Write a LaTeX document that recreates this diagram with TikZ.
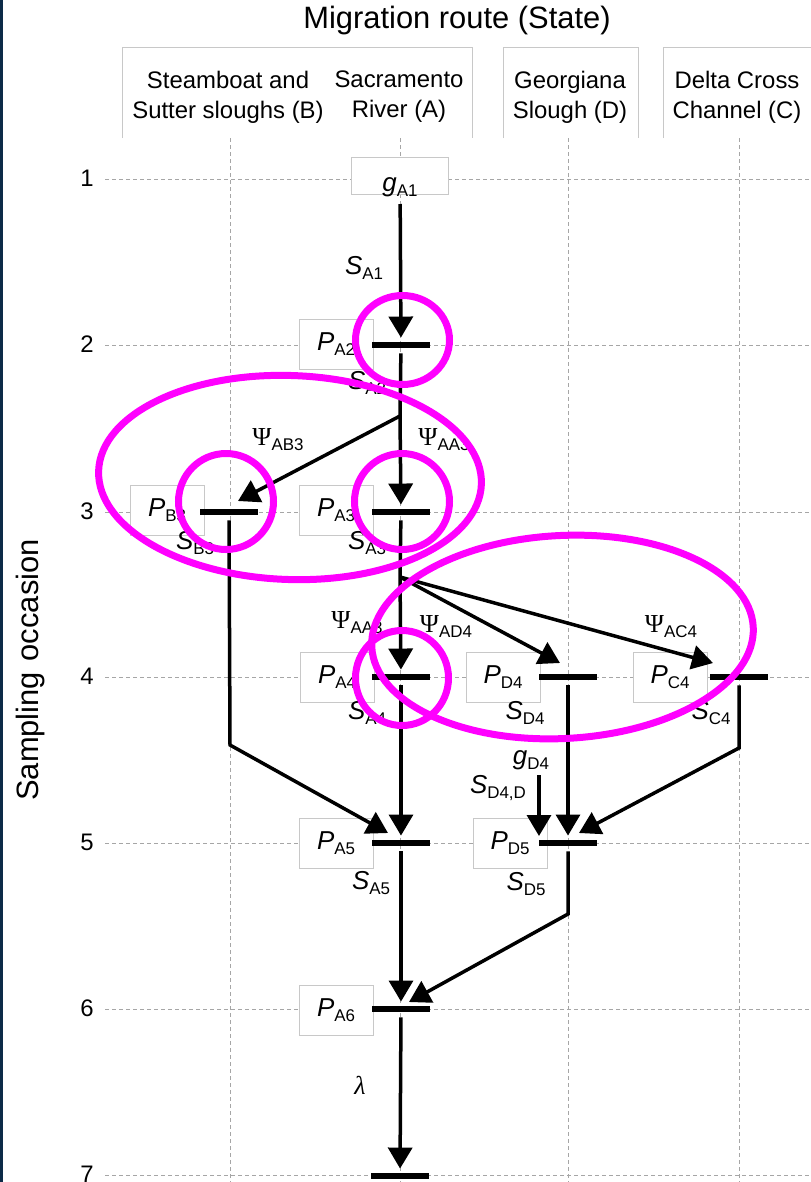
\documentclass[tikz,border=0pt]{standalone}
\usepackage{fontspec}
\setmainfont{Liberation Sans}
\newfontfamily\greekfont{Liberation Serif}
\usetikzlibrary{arrows.meta}

\definecolor{gridgray}{HTML}{A6A6A6}
\definecolor{boxgray}{HTML}{C8C8C8}
\definecolor{hilite}{HTML}{FF00FF}
\definecolor{navy}{HTML}{0C2A47}

\newcommand{\sub}[1]{\raisebox{-5bp}{\fontsize{17}{17}\selectfont #1}}
\newcommand{\ital}[2]{\textit{#1}\sub{#2}}
\newcommand{\trans}[1]{{\greekfont Ψ}\sub{#1}}

\begin{document}
\begin{tikzpicture}[
        x=1bp, y=-1bp,
        gridline/.style={gridgray, line width=1bp, dash pattern=on 4bp off 3bp},
        hbox/.style={draw=boxgray, line width=1bp},
        pbox/.style={rectangle, draw=boxgray, fill=white, line width=1bp, minimum width=74bp, minimum height=50bp, inner sep=0pt, font=\fontsize{26}{30}\selectfont},
        bar/.style={rectangle, fill=black, minimum width=58bp, minimum height=6.5bp, inner sep=0pt},
        lbl/.style={inner sep=0pt, font=\fontsize{26}{30}\selectfont},
        hdr/.style={inner sep=0pt, align=center, font=\fontsize{24}{30}\selectfont},
        link/.style={line width=3.5bp},
        conn/.style={link, -{Triangle[length=21bp, width=24bp]}},
        ring/.style={hilite, line width=7bp}
    ]
        \useasboundingbox (0,0) rectangle (811,1182);
        \fill[navy] (0,0) rectangle (3,1182);

        % grid of states and occasions
        \foreach \gx in {230,400,568,739}
            \draw[gridline] (\gx,138) -- (\gx,1182);
        \foreach \gy/\gn in {179/1,345/2,512/3,677/4,843/5,1009/6,1175/7} {
            \draw[gridline] (105,\gy) -- (811,\gy);
            \node[lbl, font=\fontsize{24}{28}\selectfont] (row\gn) at (87,\gy-1) {\gn};
        }

        % headers
        \node[inner sep=0pt, font=\fontsize{31}{36}\selectfont] (title) at (457,21) {Migration route (State)};
        \draw[hbox] (122,138) |- (472,47) -- (472,138);
        \draw[hbox] (503,138) |- (638,47) -- (638,138);
        \draw[hbox] (663,138) |- (815,47);
        \node[hdr] (hB) at (228,97) {Steamboat and\\Sutter sloughs (B)};
        \node[hdr] (hA) at (399,97) {Sacramento\\River (A)};
        \node[hdr] (hD) at (570,97) {Georgiana\\Slough (D)};
        \node[hdr] (hC) at (737,97) {Delta Cross\\Channel (C)};
        \node[inner sep=0pt, rotate=90, font=\fontsize{31}{36}\selectfont] (axis) at (31,670) {Sampling\hspace{0.35em}occasion};

        % detection boxes
        \node[pbox, minimum width=97bp, minimum height=37bp] (gA1) at (400,176) {};
        \node[lbl] (lgA1) at (400,187) {\ital{g}{A1}};
        \node[pbox] (pA2) at (336,344) {\ital{P}{A2}};
        \node[pbox] (pB3) at (167,510) {\ital{P}{B3}};
        \node[pbox] (pA3) at (336,510) {\ital{P}{A3}};
        \node[pbox] (pA4) at (337,677) {\ital{P}{A4}};
        \node[pbox] (pD4) at (503,677) {\ital{P}{D4}};
        \node[pbox] (pC4) at (670,677) {\ital{P}{C4}};
        \node[pbox] (pA5) at (336,843) {\ital{P}{A5}};
        \node[pbox] (pD5) at (510,843) {\ital{P}{D5}};
        \node[pbox] (pA6) at (336,1010) {\ital{P}{A6}};

        % bars
        \node[bar] (bA2) at (401,345) {};
        \node[bar] (bB3) at (229,512) {};
        \node[bar] (bA3) at (401,512) {};
        \node[bar] (bA4) at (401,677) {};
        \node[bar] (bD4) at (568,677) {};
        \node[bar] (bC4) at (739,677) {};
        \node[bar] (bA5) at (401,843) {};
        \node[bar] (bD5) at (568,843) {};
        \node[bar] (bA6) at (401,1009) {};
        \node[bar] (bA7) at (400,1176) {};

        \coordinate (jA2) at (400,416);
        \coordinate (jA3) at (400,577);
        \coordinate (kB) at (230,745);
        \coordinate (kC) at (739,748);
        \coordinate (kD) at (568,914);
        \coordinate (tB3) at (238,501);
        \coordinate (tD4) at (560,663);
        \coordinate (tC4) at (713,663);
        \coordinate (tA5) at (388,833);
        \coordinate (tD5) at (579,833);
        \coordinate (tA6) at (409,1002);
        \coordinate (sD) at (539,775);
        \coordinate (tgD) at (539,836);

        % transitions
        \draw[conn, shorten <=9bp, shorten >=4bp] (gA1) -- (bA2);
        \draw[link, shorten <=5bp] (bA2) -- (jA2);
        \draw[conn, shorten >=4bp] (jA2) -- (bA3);
        \draw[conn] (jA2) -- (tB3);
        \draw[link, shorten <=5bp] (bA3) -- (jA3);
        \draw[conn, shorten >=4bp] (jA3) -- (bA4);
        \draw[conn] (jA3) -- (tD4);
        \draw[conn] (jA3) -- (tC4);
        \draw[conn, shorten <=5bp] (bB3) -- (kB) -- (tA5);
        \draw[conn, shorten <=5bp, shorten >=4bp] (bA4) -- (bA5);
        \draw[conn, shorten <=5bp, shorten >=4bp] (bD4) -- (bD5);
        \draw[conn, shorten <=5bp] (bC4) -- (kC) -- (tD5);
        \draw[conn] (sD) -- (tgD);
        \draw[conn, shorten <=5bp, shorten >=4bp] (bA5) -- (bA6);
        \draw[conn, shorten <=5bp] (bD5) -- (kD) -- (tA6);
        \draw[conn, shorten <=5bp, shorten >=4bp] (bA6) -- (bA7);

        % parameter labels
        \node[lbl] (sA1) at (364,268) {\ital{S}{A1}};
        \node[lbl] (sA2) at (367,383) {\ital{S}{A2}};
        \node[lbl] (psiAB3) at (278,440) {\trans{AB3}};
        \node[lbl] (psiAA3) at (444,440) {\trans{AA3}};
        \node[lbl] (sB3) at (195,543) {\ital{S}{B3}};
        \node[lbl] (sA3) at (367,543) {\ital{S}{A3}};
        \node[lbl] (psiAA4) at (357,623) {\trans{AA3}};
        \node[lbl] (psiAD4) at (446,627) {\trans{AD4}};
        \node[lbl] (psiAC4) at (671,627) {\trans{AC4}};
        \node[lbl] (sA4) at (367,713) {\ital{S}{A4}};
        \node[lbl] (sD4) at (525,713) {\ital{S}{D4}};
        \node[lbl] (sC4) at (711,713) {\ital{S}{C4}};
        \node[lbl] (gD4) at (531,760) {\ital{g}{D4}};
        \node[lbl] (sD4D) at (498,788) {\ital{S}{D4,D}};
        \node[lbl] (sA5) at (371,883) {\ital{S}{A5}};
        \node[lbl] (sD5) at (526,884) {\ital{S}{D5}};
        \node[lbl] (lam) at (360,1085) {{\greekfont\itshape λ}};

        % highlights
        \draw[ring] (402.5,340) ellipse [x radius=47bp, y radius=44.5bp];
        \draw[ring] (226,501.5) ellipse [x radius=47.5bp, y radius=48bp];
        \draw[ring] (402,501.5) ellipse [x radius=47.5bp, y radius=48bp];
        \draw[ring] (402,678) ellipse [x radius=46.5bp, y radius=47.5bp];
        \draw[ring, rotate around={-2:(290,477.5)}] (290,477.5) ellipse [x radius=191.5bp, y radius=102bp];
        \draw[ring, rotate around={3:(562.5,637)}] (562.5,637) ellipse [x radius=191bp, y radius=101.5bp];
    \end{tikzpicture}
\end{document}
